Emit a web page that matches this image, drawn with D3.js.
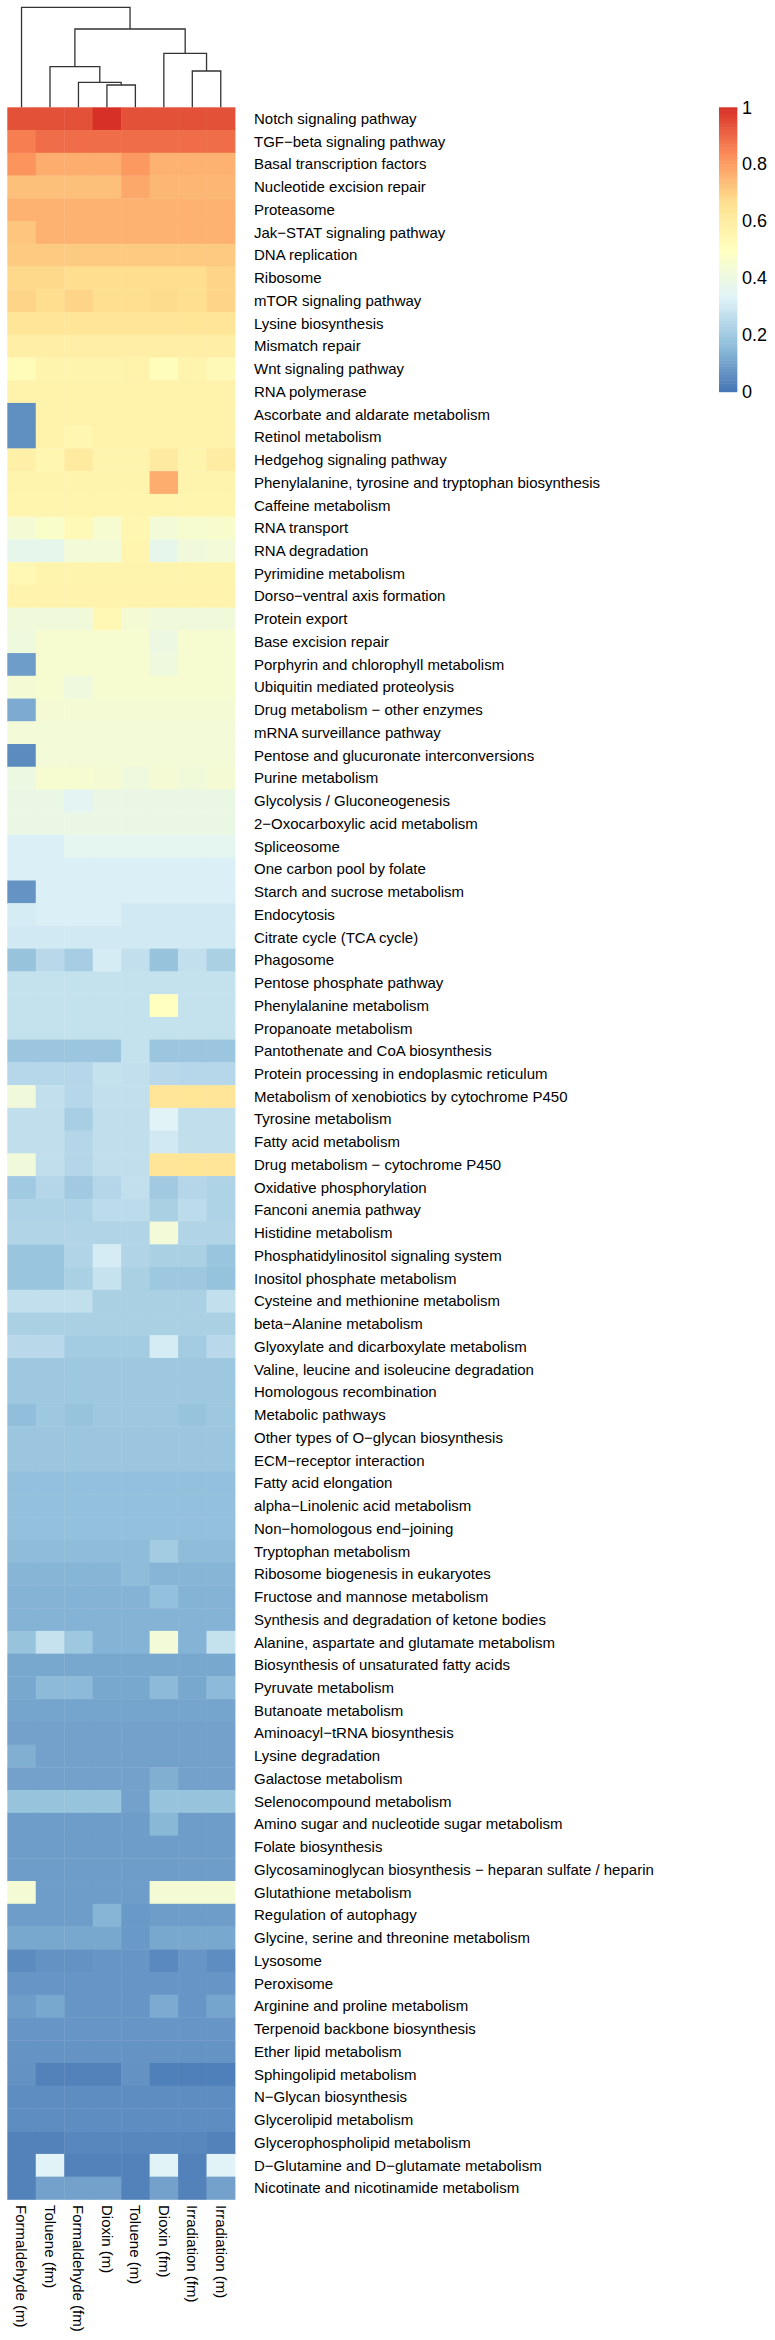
<!DOCTYPE html>
<html><head><meta charset="utf-8">
<script src="https://cdn.jsdelivr.net/npm/d3@7"></script>
<style>body{margin:0;background:#fff}svg{display:block}</style>
</head><body>
<script>
const colLabels = ["Formaldehyde (m)","Toluene (fm)","Formaldehyde (fm)","Dioxin (m)","Toluene (m)","Dioxin (fm)","Irradiation (fm)","Irradiation (m)"];
const rowLabels = ["Notch signaling pathway","TGF\u2212beta signaling pathway","Basal transcription factors","Nucleotide excision repair","Proteasome","Jak\u2212STAT signaling pathway","DNA replication","Ribosome","mTOR signaling pathway","Lysine biosynthesis","Mismatch repair","Wnt signaling pathway","RNA polymerase","Ascorbate and aldarate metabolism","Retinol metabolism","Hedgehog signaling pathway","Phenylalanine, tyrosine and tryptophan biosynthesis","Caffeine metabolism","RNA transport","RNA degradation","Pyrimidine metabolism","Dorso\u2212ventral axis formation","Protein export","Base excision repair","Porphyrin and chlorophyll metabolism","Ubiquitin mediated proteolysis","Drug metabolism \u2212 other enzymes","mRNA surveillance pathway","Pentose and glucuronate interconversions","Purine metabolism","Glycolysis / Gluconeogenesis","2\u2212Oxocarboxylic acid metabolism","Spliceosome","One carbon pool by folate","Starch and sucrose metabolism","Endocytosis","Citrate cycle (TCA cycle)","Phagosome","Pentose phosphate pathway","Phenylalanine metabolism","Propanoate metabolism","Pantothenate and CoA biosynthesis","Protein processing in endoplasmic reticulum","Metabolism of xenobiotics by cytochrome P450","Tyrosine metabolism","Fatty acid metabolism","Drug metabolism \u2212 cytochrome P450","Oxidative phosphorylation","Fanconi anemia pathway","Histidine metabolism","Phosphatidylinositol signaling system","Inositol phosphate metabolism","Cysteine and methionine metabolism","beta\u2212Alanine metabolism","Glyoxylate and dicarboxylate metabolism","Valine, leucine and isoleucine degradation","Homologous recombination","Metabolic pathways","Other types of O\u2212glycan biosynthesis","ECM\u2212receptor interaction","Fatty acid elongation","alpha\u2212Linolenic acid metabolism","Non\u2212homologous end\u2212joining","Tryptophan metabolism","Ribosome biogenesis in eukaryotes","Fructose and mannose metabolism","Synthesis and degradation of ketone bodies","Alanine, aspartate and glutamate metabolism","Biosynthesis of unsaturated fatty acids","Pyruvate metabolism","Butanoate metabolism","Aminoacyl\u2212tRNA biosynthesis","Lysine degradation","Galactose metabolism","Selenocompound metabolism","Amino sugar and nucleotide sugar metabolism","Folate biosynthesis","Glycosaminoglycan biosynthesis \u2212 heparan sulfate / heparin","Glutathione metabolism","Regulation of autophagy","Glycine, serine and threonine metabolism","Lysosome","Peroxisome","Arginine and proline metabolism","Terpenoid backbone biosynthesis","Ether lipid metabolism","Sphingolipid metabolism","N\u2212Glycan biosynthesis","Glycerolipid metabolism","Glycerophospholipid metabolism","D\u2212Glutamine and D\u2212glutamate metabolism","Nicotinate and nicotinamide metabolism"];

const formaldehydeM = [.94,.86,.82,.73,.76,.72,.71,.68,.69,.64, .59,.52,.57,.06,.06,.58,.56,.555,.44,.37, .54,.565,.42,.41,.09,.44,.12,.43,.05,.40, .39,.39,.32,.32,.07,.31,.30,.18,.275,.275, .275,.19,.245,.42,.265,.265,.42,.20,.23,.235, .185,.185,.27,.22,.25,.195,.195,.165,.19,.19, .17,.17,.17,.16,.145,.14,.14,.18,.115,.115, .105,.10,.13,.10,.18,.09,.09,.09,.44,.09, .115,.05,.075,.09,.075,.07,.065,.055,.055,.03, .03,.03];
const tolueneFm = [.94,.89,.77,.73,.76,.76,.71,.68,.67,.64, .59,.56,.57,.57,.57,.55,.56,.555,.47,.37, .56,.565,.42,.45,.45,.45,.44,.43,.43,.45, .39,.39,.32,.32,.32,.32,.30,.25,.275,.275, .275,.19,.245,.27,.265,.265,.265,.24,.23,.235, .185,.185,.27,.22,.25,.195,.195,.195,.19,.19, .17,.17,.17,.16,.145,.14,.14,.28,.115,.155, .105,.10,.10,.10,.18,.09,.09,.09,.09,.09, .115,.065,.075,.115,.075,.07,.03,.055,.055,.03, .34,.10];
const formaldehydeFm = [.94,.89,.77,.73,.76,.76,.71,.67,.69,.64, .59,.56,.57,.57,.55,.61,.56,.555,.53,.43, .56,.565,.42,.45,.45,.41,.44,.43,.43,.45, .35,.39,.36,.32,.32,.32,.30,.21,.275,.275, .275,.19,.245,.245,.215,.24,.24,.20,.23,.235, .235,.22,.27,.22,.205,.195,.195,.18,.19,.19, .17,.17,.17,.16,.145,.14,.14,.195,.115,.155, .105,.10,.10,.10,.18,.09,.09,.09,.09,.09, .115,.065,.075,.075,.075,.07,.03,.055,.055,.04, .03,.10];
const dioxinM = [1.0,.89,.77,.73,.76,.76,.71,.67,.665,.64, .59,.56,.57,.57,.57,.56,.56,.555,.45,.43, .56,.565,.54,.45,.45,.45,.44,.43,.43,.44, .39,.39,.36,.32,.32,.32,.30,.31,.275,.275, .275,.19,.275,.27,.265,.265,.265,.24,.26,.235, .31,.28,.22,.22,.205,.195,.195,.195,.19,.19, .17,.17,.17,.16,.145,.14,.14,.14,.115,.115, .105,.10,.10,.10,.18,.09,.09,.09,.09,.145, .115,.075,.075,.075,.075,.07,.03,.055,.055,.04, .03,.10];
const tolueneM = [.94,.89,.81,.78,.76,.76,.71,.67,.665,.64, .59,.57,.57,.57,.57,.56,.56,.555,.55,.555, .56,.565,.44,.45,.45,.45,.44,.43,.43,.41, .39,.39,.36,.32,.32,.30,.30,.27,.275,.275, .275,.275,.27,.27,.265,.265,.265,.27,.26,.235, .235,.22,.22,.22,.205,.195,.195,.195,.19,.19, .17,.17,.17,.16,.16,.14,.14,.14,.115,.115, .105,.10,.10,.10,.10,.09,.09,.09,.09,.08, .08,.075,.075,.075,.075,.07,.065,.055,.055,.04, .03,.03];
const dioxinFm = [.94,.89,.76,.75,.76,.76,.71,.67,.675,.64, .59,.51,.57,.57,.57,.61,.77,.555,.43,.37, .56,.565,.42,.40,.41,.45,.44,.43,.43,.44, .39,.39,.36,.32,.32,.30,.30,.18,.275,.50, .275,.19,.25,.64,.34,.30,.64,.20,.22,.43, .22,.195,.22,.22,.31,.195,.195,.195,.19,.19, .17,.17,.17,.205,.145,.17,.14,.43,.115,.155, .105,.10,.10,.13,.18,.15,.09,.09,.44,.09, .115,.045,.075,.12,.075,.07,.025,.055,.055,.04, .34,.10];
const irradiationFm = [.94,.89,.76,.75,.76,.76,.71,.67,.665,.64, .59,.56,.57,.57,.57,.56,.56,.555,.45,.42, .56,.565,.42,.45,.45,.45,.44,.43,.43,.42, .39,.39,.36,.32,.32,.30,.30,.27,.275,.275, .275,.19,.245,.64,.265,.265,.64,.24,.26,.235, .22,.195,.22,.22,.205,.195,.195,.18,.19,.19, .17,.17,.17,.16,.145,.14,.14,.14,.115,.115, .105,.10,.10,.10,.18,.09,.09,.09,.44,.09, .115,.075,.075,.075,.075,.07,.025,.055,.055,.04, .03,.03];
const irradiationM = [.94,.89,.76,.75,.76,.76,.71,.69,.69,.64, .59,.53,.57,.57,.57,.60,.56,.555,.46,.43, .56,.565,.42,.45,.45,.45,.44,.43,.43,.44, .39,.39,.36,.32,.32,.30,.30,.22,.275,.275, .275,.19,.245,.64,.265,.265,.64,.23,.23,.235, .185,.175,.27,.22,.25,.195,.195,.195,.19,.19, .17,.17,.17,.16,.145,.14,.14,.275,.115,.155, .105,.10,.10,.10,.18,.09,.09,.09,.44,.09, .115,.055,.075,.105,.075,.07,.025,.055,.055,.03, .34,.10];

const seriesValues = [formaldehydeM, tolueneFm, formaldehydeFm, dioxinM, tolueneM, dioxinFm, irradiationFm, irradiationM];

// column dendrogram (merge heights, relative)
const dendro = {h:1.0, children:[
  {leaf:0},
  {h:0.783, children:[
    {h:0.406, children:[
      {leaf:1},
      {h:0.25, children:[{leaf:2},{h:0.223, children:[{leaf:3},{leaf:4}]}]}
    ]},
    {h:0.54, children:[{leaf:5},{h:0.363, children:[{leaf:6},{leaf:7}]}]}
  ]}
]};

const legendTicks = [0, 0.2, 0.4, 0.6, 0.8, 1];
const palette = ["#4575B4","#91BFDB","#E0F3F8","#FFFFBF","#FEE090","#FC8D59","#D73027"];

const W = 775, H = 2340;
const svg = d3.select("body").append("svg").attr("width", W).attr("height", H);
const font = "'Liberation Sans', Arial, Helvetica, sans-serif";

const x = d3.scaleBand().domain(d3.range(colLabels.length)).range([7.3, 235]);
const y = d3.scaleBand().domain(d3.range(rowLabels.length)).range([107.3, 2199.4]);
const color = d3.scaleLinear().domain(palette.map((d,i)=>i/(palette.length-1))).range(palette).interpolate(d3.interpolateRgb).clamp(true);

const cells = [];
seriesValues.forEach((arr, c) => arr.forEach((v, r) => cells.push({c, r, v})));
svg.append("g").selectAll("rect").data(cells).join("rect")
  .attr("x", d => x(d.c)).attr("y", d => y(d.r))
  .attr("width", x.bandwidth() + 0.4).attr("height", y.bandwidth() + 0.4)
  .attr("fill", d => color(d.v));

// row labels
svg.append("g").selectAll("text").data(rowLabels).join("text")
  .attr("x", 254).attr("y", (d,i) => y(i) + y.bandwidth()/2).attr("dy", "0.35em")
  .attr("font-family", font).attr("font-size", 15).attr("fill", "#000").text(d => d);

// column labels
svg.append("g").selectAll("text").data(colLabels).join("text")
  .attr("transform", (d,i) => `translate(${x(i) + x.bandwidth()/2},2205) rotate(90)`)
  .attr("dy", "0.35em")
  .attr("font-family", font).attr("font-size", 15).attr("fill", "#000").text(d => d);

// dendrogram
const hy = d3.scaleLinear().domain([0, 1]).range([107.3, 7.3]);
const root = d3.hierarchy(dendro);
root.eachAfter(n => {
  if (!n.children) { n.px = x(n.data.leaf) + x.bandwidth()/2; n.py = hy(0); }
  else { n.px = d3.mean(n.children, c => c.px); n.py = hy(n.data.h); }
});
const dg = svg.append("g").attr("fill", "none").attr("stroke", "#333").attr("stroke-width", 1.3);
root.descendants().filter(n => n.children).forEach(n => {
  const [a, b] = n.children;
  dg.append("path").attr("d", `M${a.px},${a.py}V${n.py}H${b.px}V${b.py}`);
});

// legend
const ly = d3.scaleLinear().domain([0, 1]).range([391.7, 107.3]);
const steps = d3.range(100);
svg.append("g").selectAll("rect").data(steps).join("rect")
  .attr("x", 719).attr("width", 18.3)
  .attr("y", d => ly((d+1)/100)).attr("height", d => ly(d/100) - ly((d+1)/100) + 0.5)
  .attr("fill", d => color((d+0.5)/100));
svg.append("g").selectAll("text").data(legendTicks).join("text")
  .attr("x", 742).attr("y", d => ly(d)).attr("dy", "0.35em")
  .attr("font-family", font).attr("font-size", 18).attr("fill", "#000")
  .text(d => d3.format("~g")(d));
</script>
</body></html>
